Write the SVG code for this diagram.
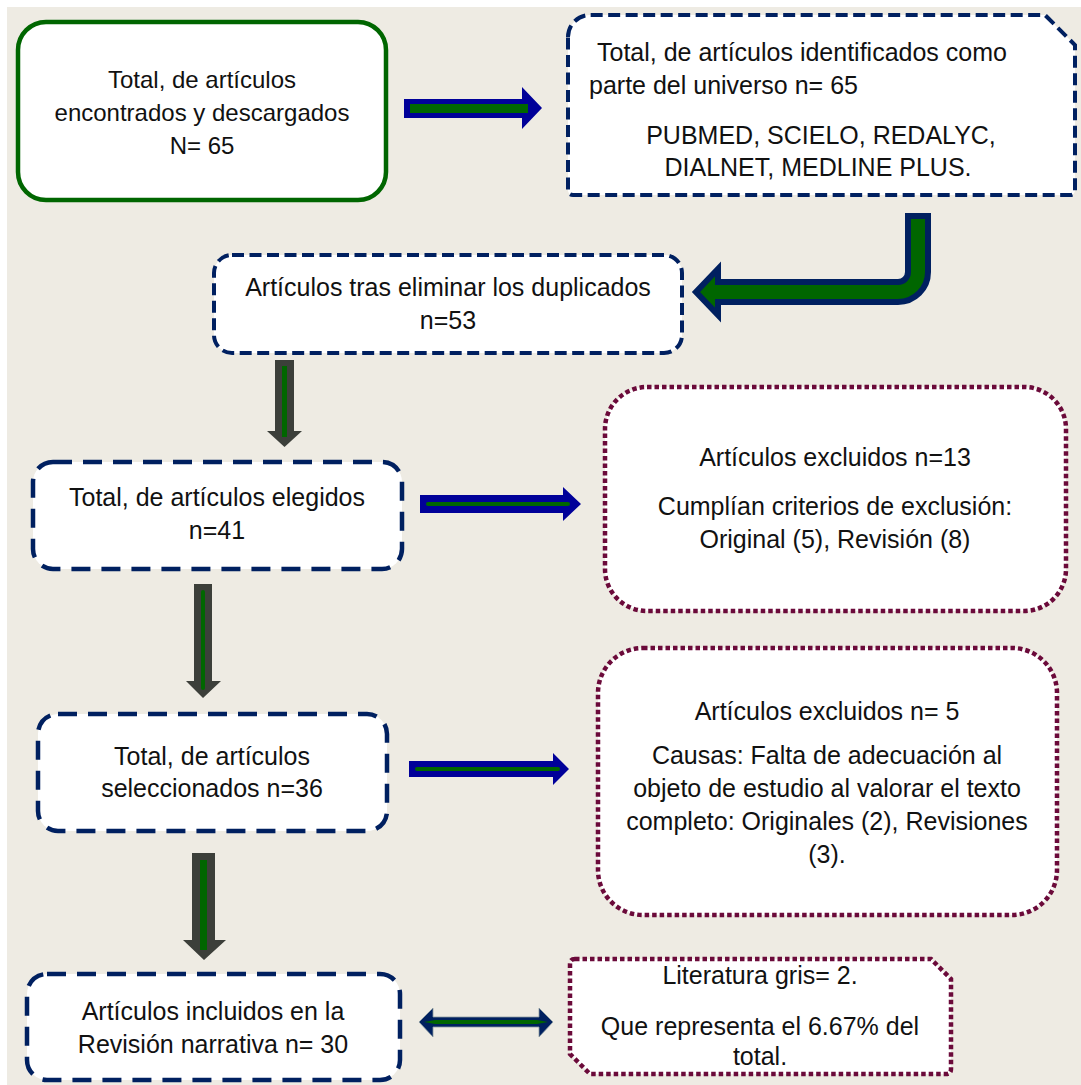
<svg xmlns="http://www.w3.org/2000/svg" width="1081" height="1085" viewBox="0 0 1081 1085">
<defs>
<style>
.t{font-family:"Liberation Sans",Arial,sans-serif;font-size:25px;fill:#111;text-anchor:middle}
.s{text-anchor:start}
.box{fill:#fff}
.green{stroke:#006600;stroke-width:4.5}
.dashS{stroke:#002060;stroke-width:4;stroke-dasharray:12 5.5}
.dashL{stroke:#002060;stroke-width:4.5;stroke-dasharray:19 11}
.dot{stroke:#6b0a3a;stroke-width:4.5;stroke-dasharray:4.5 3}
.blue{fill:#000099}
.gray{fill:#3c3f3a}
.gin{fill:#006600}
</style>
</defs>
<rect x="0" y="0" width="1081" height="1085" fill="#fff"/>
<rect x="7" y="7" width="1074" height="1078" fill="#eeebe3"/>

<g id="connectors">
  <g id="a1">
    <polygon class="blue" points="404,99 522,99 522,87 542,108 522,129 522,118 404,118"/>
    <rect class="gin" x="410" y="104" width="118" height="9"/>
  </g>
  <g id="a-bent">
    <path d="M 908 216 L 928 216 L 928 272 A 30 30 0 0 1 898 302 L 718 302 L 718 315 L 696 292 L 718 269 L 718 282 L 898 282 A 10 10 0 0 0 908 272 Z" fill="#006600" stroke="#002060" stroke-width="6" stroke-linejoin="miter"/>
  </g>
  <g id="d1">
    <polygon class="gray" points="275,360 294,360 294,431 302,431 284.5,447 267,431 275,431"/>
    <rect class="gin" x="282" y="366" width="5" height="71"/>
  </g>
  <g id="a2">
    <polygon class="blue" points="420,495 563,495 563,487 581,504 563,521 563,513 420,513"/>
    <rect class="gin" x="426" y="502" width="144" height="4" rx="2"/>
  </g>
  <g id="d2">
    <polygon class="gray" points="194,584 212,584 212,681 221,681 203,698 186,681 194,681"/>
    <rect class="gin" x="201" y="590" width="4" height="100" rx="2"/>
  </g>
  <g id="a3">
    <polygon class="blue" points="409,761 553,761 553,753 569,769 553,785 553,777 409,777"/>
    <rect class="gin" x="415" y="767" width="145" height="4" rx="2"/>
  </g>
  <g id="d3">
    <polygon class="gray" points="192,853 215,853 215,940 226,940 204,960 183,940 192,940"/>
    <rect class="gin" x="200" y="860" width="7" height="90"/>
  </g>
  <g id="a4">
    <polygon points="419,1022 433,1008 433,1017 539,1017 539,1008 553,1022 539,1037 539,1027 433,1027 433,1037" fill="#002060" stroke="#8a9ba0" stroke-width="0.8"/>
    <polygon class="gin" points="424,1022 435,1020 537,1020 548,1022 537,1024 435,1024"/>
  </g>
</g>

<g id="n1">
  <rect class="box green" x="18" y="22" width="368" height="178" rx="28"/>
  <text class="t" style="font-size:24px" x="202" y="88">Total, de artículos</text>
  <text class="t" style="font-size:24px" x="202" y="121">encontrados y descargados</text>
  <text class="t" style="font-size:24px" x="202" y="154">N= 65</text>
</g>

<g id="n2">
  <path class="box dashS" d="M 568 37 A 22 22 0 0 1 590 15 L 1045 15 L 1075 45 L 1075 190 Q 1075 195 1070 195 L 573 195 Q 568 195 568 190 Z"/>
  <text class="t s" x="597" y="61">Total, de artículos identificados como</text>
  <text class="t s" x="589" y="94">parte del universo n= 65</text>
  <text class="t" x="821" y="144">PUBMED, SCIELO, REDALYC,</text>
  <text class="t" x="818" y="176">DIALNET, MEDLINE PLUS.</text>
</g>

<g id="n3">
  <rect class="box dashS" x="214" y="255" width="468" height="98" rx="18"/>
  <text class="t" x="448" y="296">Artículos tras eliminar los duplicados</text>
  <text class="t" x="448" y="329">n=53</text>
</g>

<g id="n4">
  <rect class="box dashL" x="33" y="462" width="369" height="107" rx="20"/>
  <text class="t" x="217" y="506">Total, de artículos elegidos</text>
  <text class="t" x="217" y="539">n=41</text>
</g>

<g id="n5">
  <rect class="box dot" x="605" y="387" width="461" height="224" rx="42"/>
  <text class="t" x="835" y="466">Artículos excluidos n=13</text>
  <text class="t" x="835" y="515">Cumplían criterios de exclusión:</text>
  <text class="t" x="835" y="548">Original (5), Revisión (8)</text>
</g>

<g id="n6">
  <rect class="box dashL" x="38" y="714" width="349" height="117" rx="20"/>
  <text class="t" x="212" y="765">Total, de artículos</text>
  <text class="t" x="212" y="797">seleccionados n=36</text>
</g>

<g id="n7">
  <rect class="box dot" x="598" y="648" width="459" height="267" rx="45"/>
  <text class="t" x="827" y="720">Artículos excluidos n= 5</text>
  <text class="t" x="827" y="764">Causas: Falta de adecuación al</text>
  <text class="t" x="827" y="797">objeto de estudio al valorar el texto</text>
  <text class="t" x="827" y="830">completo: Originales (2), Revisiones</text>
  <text class="t" x="827" y="863">(3).</text>
</g>

<g id="n8">
  <rect class="box dashL" x="27" y="974" width="373" height="106" rx="20"/>
  <text class="t" x="213" y="1020">Artículos incluidos en la</text>
  <text class="t" x="213" y="1053">Revisión narrativa n= 30</text>
</g>

<g id="n9">
  <path class="box dot" d="M 575 959 L 931 959 L 951 979 L 951 1069 Q 951 1074 946 1074 L 590 1074 L 570 1054 L 570 964 Q 570 959 575 959 Z"/>
  <text class="t" x="760" y="984">Literatura gris= 2.</text>
  <text class="t" x="760" y="1035">Que representa el 6.67% del</text>
  <text class="t" x="760" y="1065">total.</text>
</g>
</svg>
